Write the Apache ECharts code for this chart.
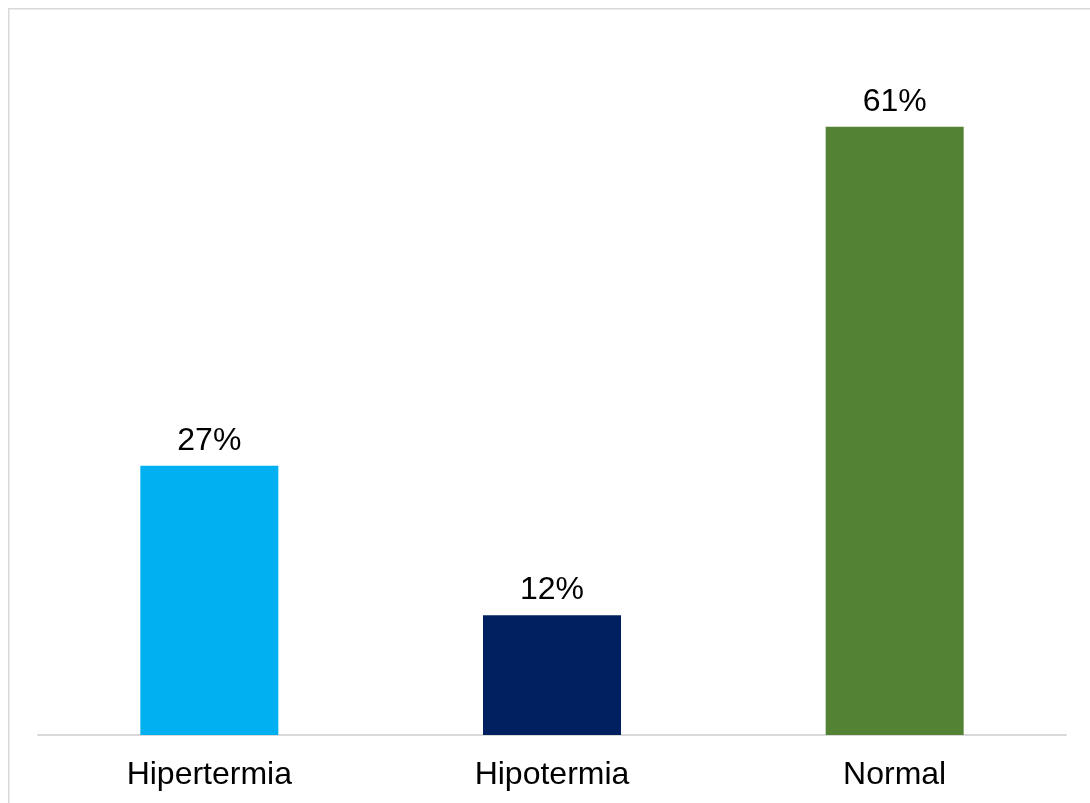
<!DOCTYPE html>
<html>
<head>
<meta charset="utf-8">
<title>Temperatura</title>
<script src="https://cdn.jsdelivr.net/npm/echarts@6/dist/echarts.min.js"></script>
<style>
  html, body { margin: 0; padding: 0; background: #ffffff; }
  #chart { width: 1090px; height: 803px; }
</style>
</head>
<body>
<div id="chart"></div>
<script>
// Categories and their shares (percent)
const categories = ['Hipertermia', 'Hipotermia', 'Normal'];
const shares = [27, 12, 61];
const barColors = ['#00B0F0', '#002060', '#548235'];

const chart = echarts.init(document.getElementById('chart'), null, { renderer: 'canvas' });

const FONT = '"Liberation Sans", Arial, sans-serif';

chart.setOption({
  animation: false,
  backgroundColor: '#ffffff',
  graphic: [{
    type: 'rect',
    shape: { x: 8.75, y: 8.75, width: 1200, height: 1000 },
    style: { fill: 'none', stroke: '#d9d9d9', lineWidth: 1.5 },
    silent: true
  }],
  grid: { left: 38, right: 24, top: 37, bottom: 68, containLabel: false },
  xAxis: {
    type: 'category',
    data: categories,
    axisLine: { show: true, lineStyle: { color: '#d9d9d9', width: 2 } },
    axisTick: { show: false },
    axisLabel: {
      color: '#000000',
      fontFamily: FONT,
      fontSize: 32,
      margin: 24
    },
    splitLine: { show: false }
  },
  yAxis: {
    type: 'value',
    min: 0,
    max: 70,
    show: false,
    splitLine: { show: false }
  },
  series: [{
    type: 'bar',
    barWidth: 138,
    data: shares.map((v, i) => ({ value: v, itemStyle: { color: barColors[i] } })),
    label: {
      show: true,
      position: 'top',
      distance: 9,
      color: '#000000',
      fontFamily: FONT,
      fontSize: 32,
      formatter: p => p.value + '%'
    }
  }]
});
</script>
</body>
</html>
